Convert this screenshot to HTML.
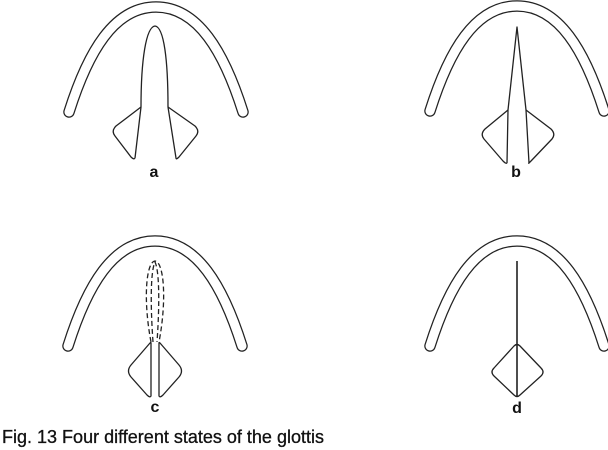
<!DOCTYPE html>
<html><head><meta charset="utf-8"><style>
html,body{margin:0;padding:0;background:#fff;}
svg{display:block;}
</style></head><body>
<svg width="608" height="450" viewBox="0 0 608 450" xmlns="http://www.w3.org/2000/svg">
<defs>
<g id="arch">
<path d="M-87,105 C-68,45 -42,0 0,0 C42,0 68,45 87,105" fill="none" stroke="#222" stroke-width="11.5" stroke-linecap="round"/>
<path d="M-87,105 C-68,45 -42,0 0,0 C42,0 68,45 87,105" fill="none" stroke="#fff" stroke-width="9" stroke-linecap="round"/>
</g>
</defs>
<g fill="none" stroke="#222" stroke-width="1.3" stroke-linejoin="round">
<!-- a -->
<use href="#arch" x="156" y="7"/>
<path d="M135,158 L141,107 C141,60 146,27 155,26 C164,27 168,60 168,107 L176,158" />
<path d="M141,107 L116,126 Q111,131 115,136 L131,157 Q134,160 135,158" />
<path d="M168,107 L195,126 Q200,131 196,136 L179,157 Q176,160 176,158" />
<!-- b -->
<use href="#arch" x="517" y="6"/>
<path d="M507,163 L508,110 L517,27 L526,110 L529,163"/>
<path d="M508,110 L485,129 Q480,134 484,139 L503,161 Q506,164 507,163"/>
<path d="M526,110 L551,129 Q556,134 552,139 L531,161 Q528,164 529,163"/>
<!-- c -->
<use href="#arch" x="155" y="241"/>
<g stroke-dasharray="5,3">
<path d="M151,342 C143,300 146,262 155,261 C164,262 167,300 159,342"/>
<path d="M153,342 C150,300 151,270 155,262 C159,270 160,300 157,342"/>
</g>
<path d="M150,343 L131,365 Q126,371 131,377 L147,395 Q150,398 151,396 L151,343 Q151,342 150,343"/>
<path d="M160,343 L179,365 Q184,371 179,377 L163,395 Q160,398 159,396 L159,343 Q159,342 160,343"/>
<!-- d -->
<use href="#arch" x="517" y="241"/>
<path d="M517,261 L517,397" stroke-width="1.6"/>
<path d="M514,346 Q517,343 520,346 L541,368 Q545,372 541,376 L520,395 Q517,398 514,395 L494,376 Q490,372 494,368 Z"/>
</g>
<g font-family="Liberation Sans, sans-serif" font-weight="bold" font-size="16" fill="#111" text-anchor="middle">
<text x="154" y="177">a</text>
<text x="516" y="177">b</text>
<text x="155" y="412">c</text>
<text x="517" y="413">d</text>
</g>
<text x="2" y="443" font-family="Liberation Sans, sans-serif" font-size="18" fill="#111" stroke="#111" stroke-width="0.3" textLength="322" lengthAdjust="spacingAndGlyphs">Fig. 13  Four different states of the glottis</text>
</svg>
</body></html>
